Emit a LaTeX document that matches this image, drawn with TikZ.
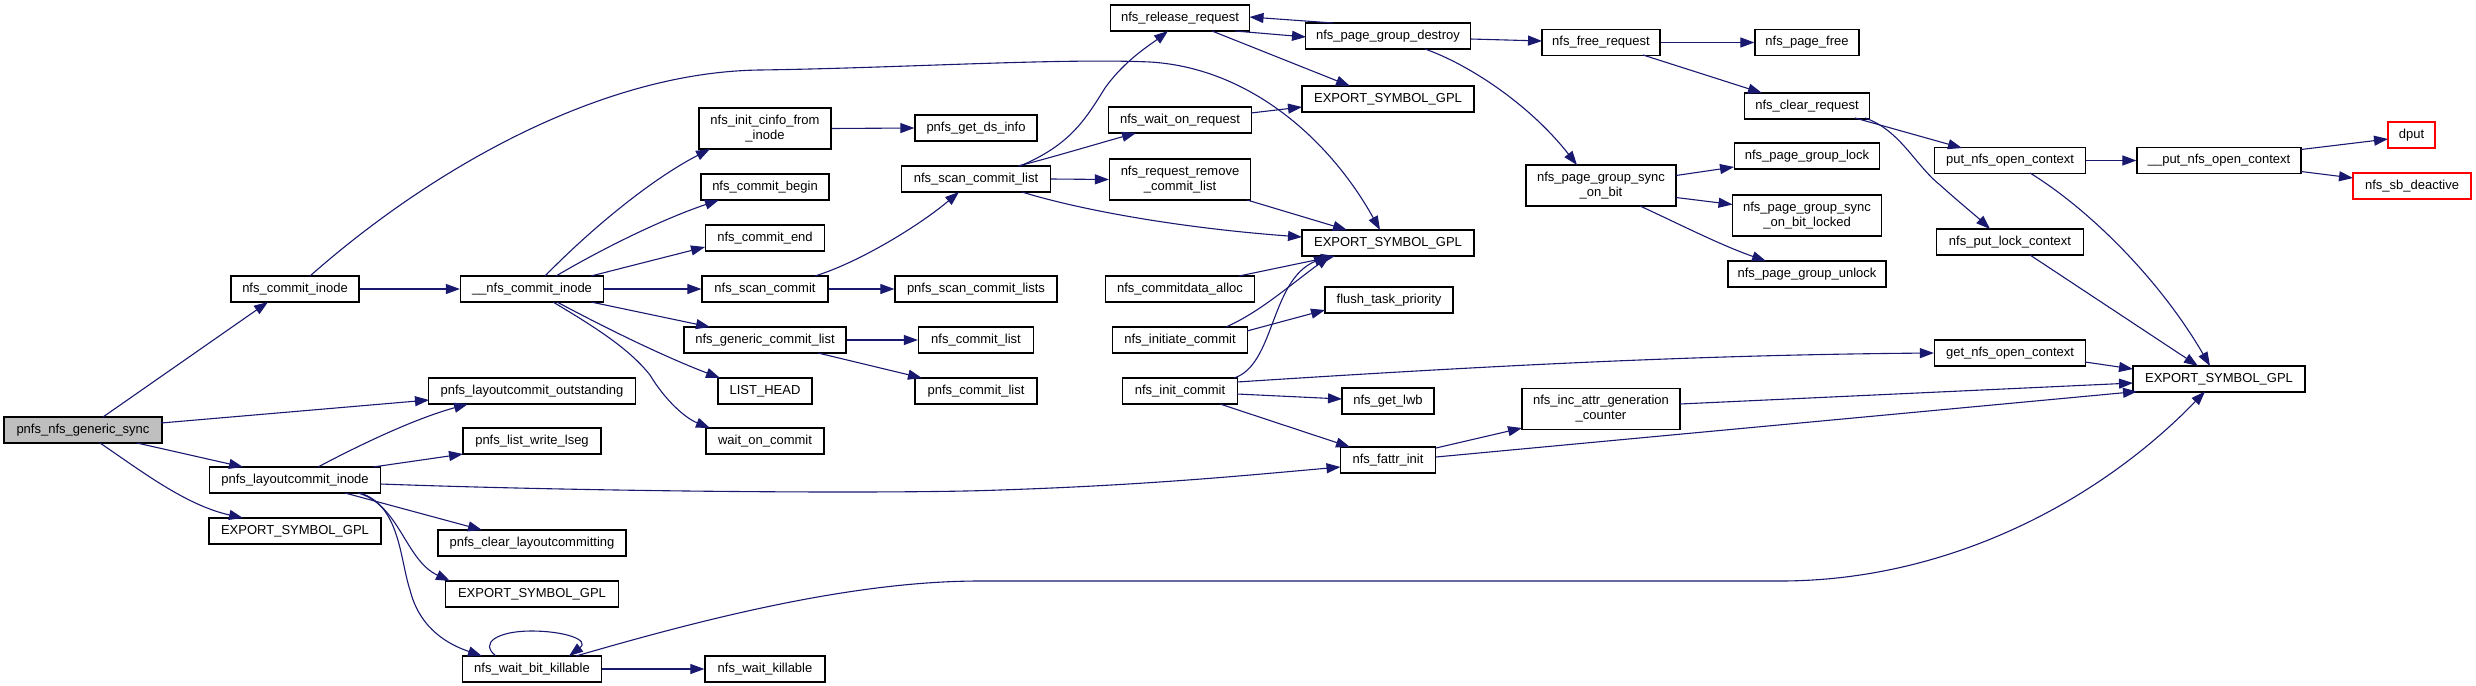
\documentclass[tikz,border=0pt]{standalone}
\usepackage{fontspec}
\setmainfont{Liberation Sans}
\usetikzlibrary{arrows.meta,calc}
\definecolor{edgeblue}{HTML}{191970}
\definecolor{rootgrey}{HTML}{BFBFBF}
\definecolor{boxred}{HTML}{FF0000}
\begin{document}
\begin{tikzpicture}[x=0.5pt,y=-0.5pt,
  box/.style={draw=black,line width=0.6pt,inner sep=0pt,minimum height=13pt,
    font=\fontsize{6.5}{7.5}\selectfont,align=center,fill=white},
  two/.style={minimum height=20.5pt},
  bw/.style={minimum width=#1*0.5pt},
  root/.style={fill=rootgrey},
  redbox/.style={draw=boxred},
  edge/.style={draw=edgeblue,line width=0.55pt,-{Triangle[length=7pt,width=5pt]}}]
\useasboundingbox (0,0) rectangle (2476,685);

\node[box,root,bw=158] (gs) at (83,430) {pnfs\_nfs\_generic\_sync};
\node[box,bw=128] (nci) at (295,289) {nfs\_commit\_inode};
\node[box,bw=171] (lci) at (295,480) {pnfs\_layoutcommit\_inode};
\node[box,bw=172] (exa) at (295,531) {EXPORT\_SYMBOL\_GPL};
\node[box,bw=143] (nnci) at (532,289) {\_\_nfs\_commit\_inode};
\node[box,bw=207] (lco) at (532,391) {pnfs\_layoutcommit\_outstanding};
\node[box,bw=138] (lwl) at (532,441) {pnfs\_list\_write\_lseg};
\node[box,bw=188] (clc) at (532,543) {pnfs\_clear\_layoutcommitting};
\node[box,bw=173] (exb) at (532,594) {EXPORT\_SYMBOL\_GPL};
\node[box,bw=139] (wbk) at (532,669) {nfs\_wait\_bit\_killable};
\node[box,two,bw=132] (icf) at (765,128.5) {nfs\_init\_cinfo\_from\\\_inode};
\node[box,bw=128] (cb) at (765,187) {nfs\_commit\_begin};
\node[box,bw=119] (ce) at (765,238) {nfs\_commit\_end};
\node[box,bw=126] (sc) at (765,289) {nfs\_scan\_commit};
\node[box,bw=162] (gcl) at (765,340) {nfs\_generic\_commit\_list};
\node[box,bw=94] (lh) at (765,391) {LIST\_HEAD};
\node[box,bw=118] (woc) at (765,441) {wait\_on\_commit};
\node[box,bw=120] (wk) at (765,669) {nfs\_wait\_killable};
\node[box,bw=122] (gdi) at (976,128) {pnfs\_get\_ds\_info};
\node[box,bw=149] (scl) at (976,179) {nfs\_scan\_commit\_list};
\node[box,bw=162] (pscl) at (976,289) {pnfs\_scan\_commit\_lists};
\node[box,bw=115] (cl) at (976,340) {nfs\_commit\_list};
\node[box,bw=122] (pcl) at (976,391) {pnfs\_commit\_list};
\node[box,bw=139] (rr) at (1180,18) {nfs\_release\_request};
\node[box,bw=143] (wor) at (1180,120) {nfs\_wait\_on\_request};
\node[box,two,bw=141] (rrcl) at (1180,179.5) {nfs\_request\_remove\\\_commit\_list};
\node[box,bw=149] (cda) at (1180,289) {nfs\_commitdata\_alloc};
\node[box,bw=135] (ic) at (1180,340) {nfs\_initiate\_commit};
\node[box,bw=115] (inc) at (1180,391) {nfs\_init\_commit};
\node[box,bw=165] (pgd) at (1388,36) {nfs\_page\_group\_destroy};
\node[box,bw=172] (exc) at (1388,99) {EXPORT\_SYMBOL\_GPL};
\node[box,bw=172] (exd) at (1388,243) {EXPORT\_SYMBOL\_GPL};
\node[box,bw=128] (ftp) at (1389,300) {flush\_task\_priority};
\node[box,bw=92] (lwb) at (1388,401) {nfs\_get\_lwb};
\node[box,bw=95] (fi) at (1388,460) {nfs\_fattr\_init};
\node[box,bw=118] (fr) at (1601,42.5) {nfs\_free\_request};
\node[box,two,bw=150] (pgs) at (1601,185.5) {nfs\_page\_group\_sync\\\_on\_bit};
\node[box,two,bw=158] (iagc) at (1601,409) {nfs\_inc\_attr\_generation\\\_counter};
\node[box,bw=104] (pf) at (1807,42.5) {nfs\_page\_free};
\node[box,bw=125] (cr) at (1807,106) {nfs\_clear\_request};
\node[box,bw=145] (pgl) at (1807,156) {nfs\_page\_group\_lock};
\node[box,two,bw=149] (pgsl) at (1807,215.5) {nfs\_page\_group\_sync\\\_on\_bit\_locked};
\node[box,bw=158] (pgu) at (1807,274) {nfs\_page\_group\_unlock};
\node[box,bw=151] (pnoc) at (2010,160.5) {put\_nfs\_open\_context};
\node[box,bw=147] (plc) at (2010,242) {nfs\_put\_lock\_context};
\node[box,bw=151] (gnoc) at (2010,353) {get\_nfs\_open\_context};
\node[box,bw=164] (upnoc) at (2219,160.5) {\_\_put\_nfs\_open\_context};
\node[box,bw=172] (exe) at (2219,379) {EXPORT\_SYMBOL\_GPL};
\node[box,redbox,bw=47] (dput) at (2411.5,135) {dput};
\node[box,redbox,bw=118] (sbd) at (2412,186) {nfs\_sb\_deactive};

% edges
\draw[edge] ($(gs)+(20,-13)$) -- ($(nci)+(-27,13)$);
\draw[edge] ($(gs)+(78,-7)$) -- ($(lco)+(-103,9)$);
\draw[edge] ($(gs)+(54,13)$) -- ($(lci)+(-52,-13)$);
\draw[edge] ($(gs)+(17,13)$) .. controls (140,470) and (185,505) .. ($(exa)+(-52,-13)$);
\draw[edge] (nci.east) -- (nnci.west);
\draw[edge] ($(nci)+(15,-13)$) .. controls (430,170) and (600,72) .. (760,70)
  .. controls (900,68) and (1060,58) .. (1150,62)
  .. controls (1250,68) and (1330,140) .. ($(exd)+(-8,-13)$);
\draw[edge] ($(nnci)+(13,-13)$) .. controls (590,230) and (650,180) .. ($(icf)+(-55,20.5)$);
\draw[edge] ($(nnci)+(24,-13)$) .. controls (600,250) and (660,220) .. ($(cb)+(-46,13)$);
\draw[edge] ($(nnci)+(59,-13)$) -- ($(ce)+(-60,9)$);
\draw[edge] (nnci.east) -- (sc.west);
\draw[edge] ($(nnci)+(59,13)$) -- ($(gcl)+(-55,-13)$);
\draw[edge] ($(nnci)+(25,13)$) .. controls (600,325) and (660,355) .. ($(lh)+(-45,-13)$);
\draw[edge] ($(nnci)+(21,13)$) .. controls (600,330) and (630,350) .. (650,375)
  .. controls (665,400) and (685,418) .. ($(woc)+(-55,-13)$);
\draw[edge] (icf.east) -- (gdi.west);
\draw[edge] ($(sc)+(50,-13)$) .. controls (860,262) and (920,225) .. ($(scl)+(-17,13)$);
\draw[edge] (sc.east) -- (pscl.west);
\draw[edge] (gcl.east) -- (cl.west);
\draw[edge] ($(gcl)+(53,13)$) -- ($(pcl)+(-54,-13)$);
\draw[edge] ($(scl)+(44,-13)$) .. controls (1070,145) and (1085,120) .. (1105,88)
  .. controls (1125,60) and (1150,45) .. ($(rr)+(-12,13)$);
\draw[edge] ($(scl)+(42,-13)$) .. controls (1050,158) and (1100,143) .. ($(wor)+(-44,13)$);
\draw[edge] (scl.east) -- (rrcl.west);
\draw[edge] ($(scl)+(46,13)$) .. controls (1080,210) and (1180,228) .. ($(exd)+(-86,-6)$);
\draw[edge] ($(rr)+(55,13)$) -- ($(pgd)+(-82,1)$);
\draw[edge] ($(pgd)+(-55,-13)$) -- ($(rr)+(69.5,-1)$);
\draw[edge] ($(rr)+(32,13)$) -- ($(exc)+(-38,-13)$);
\draw[edge] ($(wor)+(71,-7)$) -- ($(exc)+(-86,8)$);
\draw[edge] ($(rrcl)+(67,20.5)$) -- ($(exd)+(-41,-13)$);
\draw[edge] ($(cda)+(59,-13)$) -- ($(exd)+(-53,13)$);
\draw[edge] ($(ic)+(46,-13)$) .. controls (1260,312) and (1290,285) .. ($(exd)+(-58,13)$);
\draw[edge] ($(ic)+(67,-9)$) -- ($(ftp)+(-64,10)$);
\draw[edge] ($(inc)+(54,-13)$) .. controls (1275,365) and (1270,280) .. ($(exd)+(-60,13)$);
\draw[edge] ($(inc)+(57,-9)$) .. controls (1500,365) and (1700,355) .. (gnoc.west);
\draw[edge] ($(inc)+(57,3)$) -- ($(lwb)+(-46,-2)$);
\draw[edge] ($(inc)+(40,13)$) -- ($(fi)+(-38,-13)$);
\draw[edge] ($(lci)+(23,-13)$) .. controls (350,450) and (410,420) .. ($(lco)+(-64,13)$);
\draw[edge] ($(lci)+(78,-13)$) -- ($(lwl)+(-69,13)$);
\draw[edge] ($(lci)+(85.5,4)$) .. controls (600,492) and (900,494) .. (1000,490)
  .. controls (1150,485) and (1250,475) .. ($(fi)+(-47.5,7)$);
\draw[edge] ($(lci)+(50,13)$) -- ($(clc)+(-50,-13)$);
\draw[edge] ($(lci)+(63,13)$) .. controls (400,505) and (405,560) .. ($(exb)+(-82,-13)$);
\draw[edge] ($(lci)+(65,13)$) .. controls (400,505) and (400,560) .. (410,590)
  .. controls (420,630) and (450,645) .. ($(wbk)+(-50,-13)$);
\draw[edge] ($(wbk)+(-36,-13)$) .. controls (478,642) and (500,631) .. (531,631)
  .. controls (565,631) and (590,640) .. ($(wbk)+(37,-13)$);
\draw[edge] (wbk.east) -- (wk.west);
\draw[edge] ($(wbk)+(44,-13)$) .. controls (700,620) and (850,581) .. (980,581) -- (1780,581)
  .. controls (1950,581) and (2100,500) .. ($(exe)+(-14,12.5)$);
\draw[edge] ($(fi)+(48,-12)$) -- ($(iagc)+(-79,19)$);
\draw[edge] ($(fi)+(48,-3)$) -- ($(exe)+(-82,12.5)$);
\draw[edge] ($(iagc)+(79,-5)$) -- ($(exe)+(-86,4)$);
\draw[edge] ($(pgd)+(82.5,3)$) -- ($(fr)+(-59,-1.5)$);
\draw[edge] ($(pgd)+(37,13)$) .. controls (1470,65) and (1530,105) .. ($(pgs)+(-24,-20.5)$);
\draw[edge] (fr.east) -- (pf.west);
\draw[edge] ($(fr)+(42,12.5)$) -- ($(cr)+(-45,-13)$);
\draw[edge] ($(pgs)+(75,-10)$) -- ($(pgl)+(-73,11)$);
\draw[edge] ($(pgs)+(75,12)$) -- ($(pgsl)+(-74.5,-11)$);
\draw[edge] ($(pgs)+(39,20.5)$) .. controls (1675,222) and (1720,245) .. ($(pgu)+(-41,-13)$);
\draw[edge] ($(cr)+(48,12)$) -- ($(pnoc)+(-48,-12.5)$);
\draw[edge] ($(cr)+(58,12)$) .. controls (1900,130) and (1915,165) .. (1940,185)
  .. controls (1960,203) and (1975,215) .. ($(plc)+(-20,-13)$);
\draw[edge] (pnoc.east) -- (upnoc.west);
\draw[edge] ($(pnoc)+(20,12.5)$) .. controls (2090,210) and (2160,280) .. ($(exe)+(-9,-13)$);
\draw[edge] ($(plc)+(20,13)$) -- ($(exe)+(-21,-13)$);
\draw[edge] ($(gnoc)+(75,9)$) -- ($(exe)+(-86,-10)$);
\draw[edge] ($(upnoc)+(82,-11)$) -- ($(dput)+(-23.5,4)$);
\draw[edge] ($(upnoc)+(82,11)$) -- ($(sbd)+(-59,-8)$);
\end{tikzpicture}
\end{document}
